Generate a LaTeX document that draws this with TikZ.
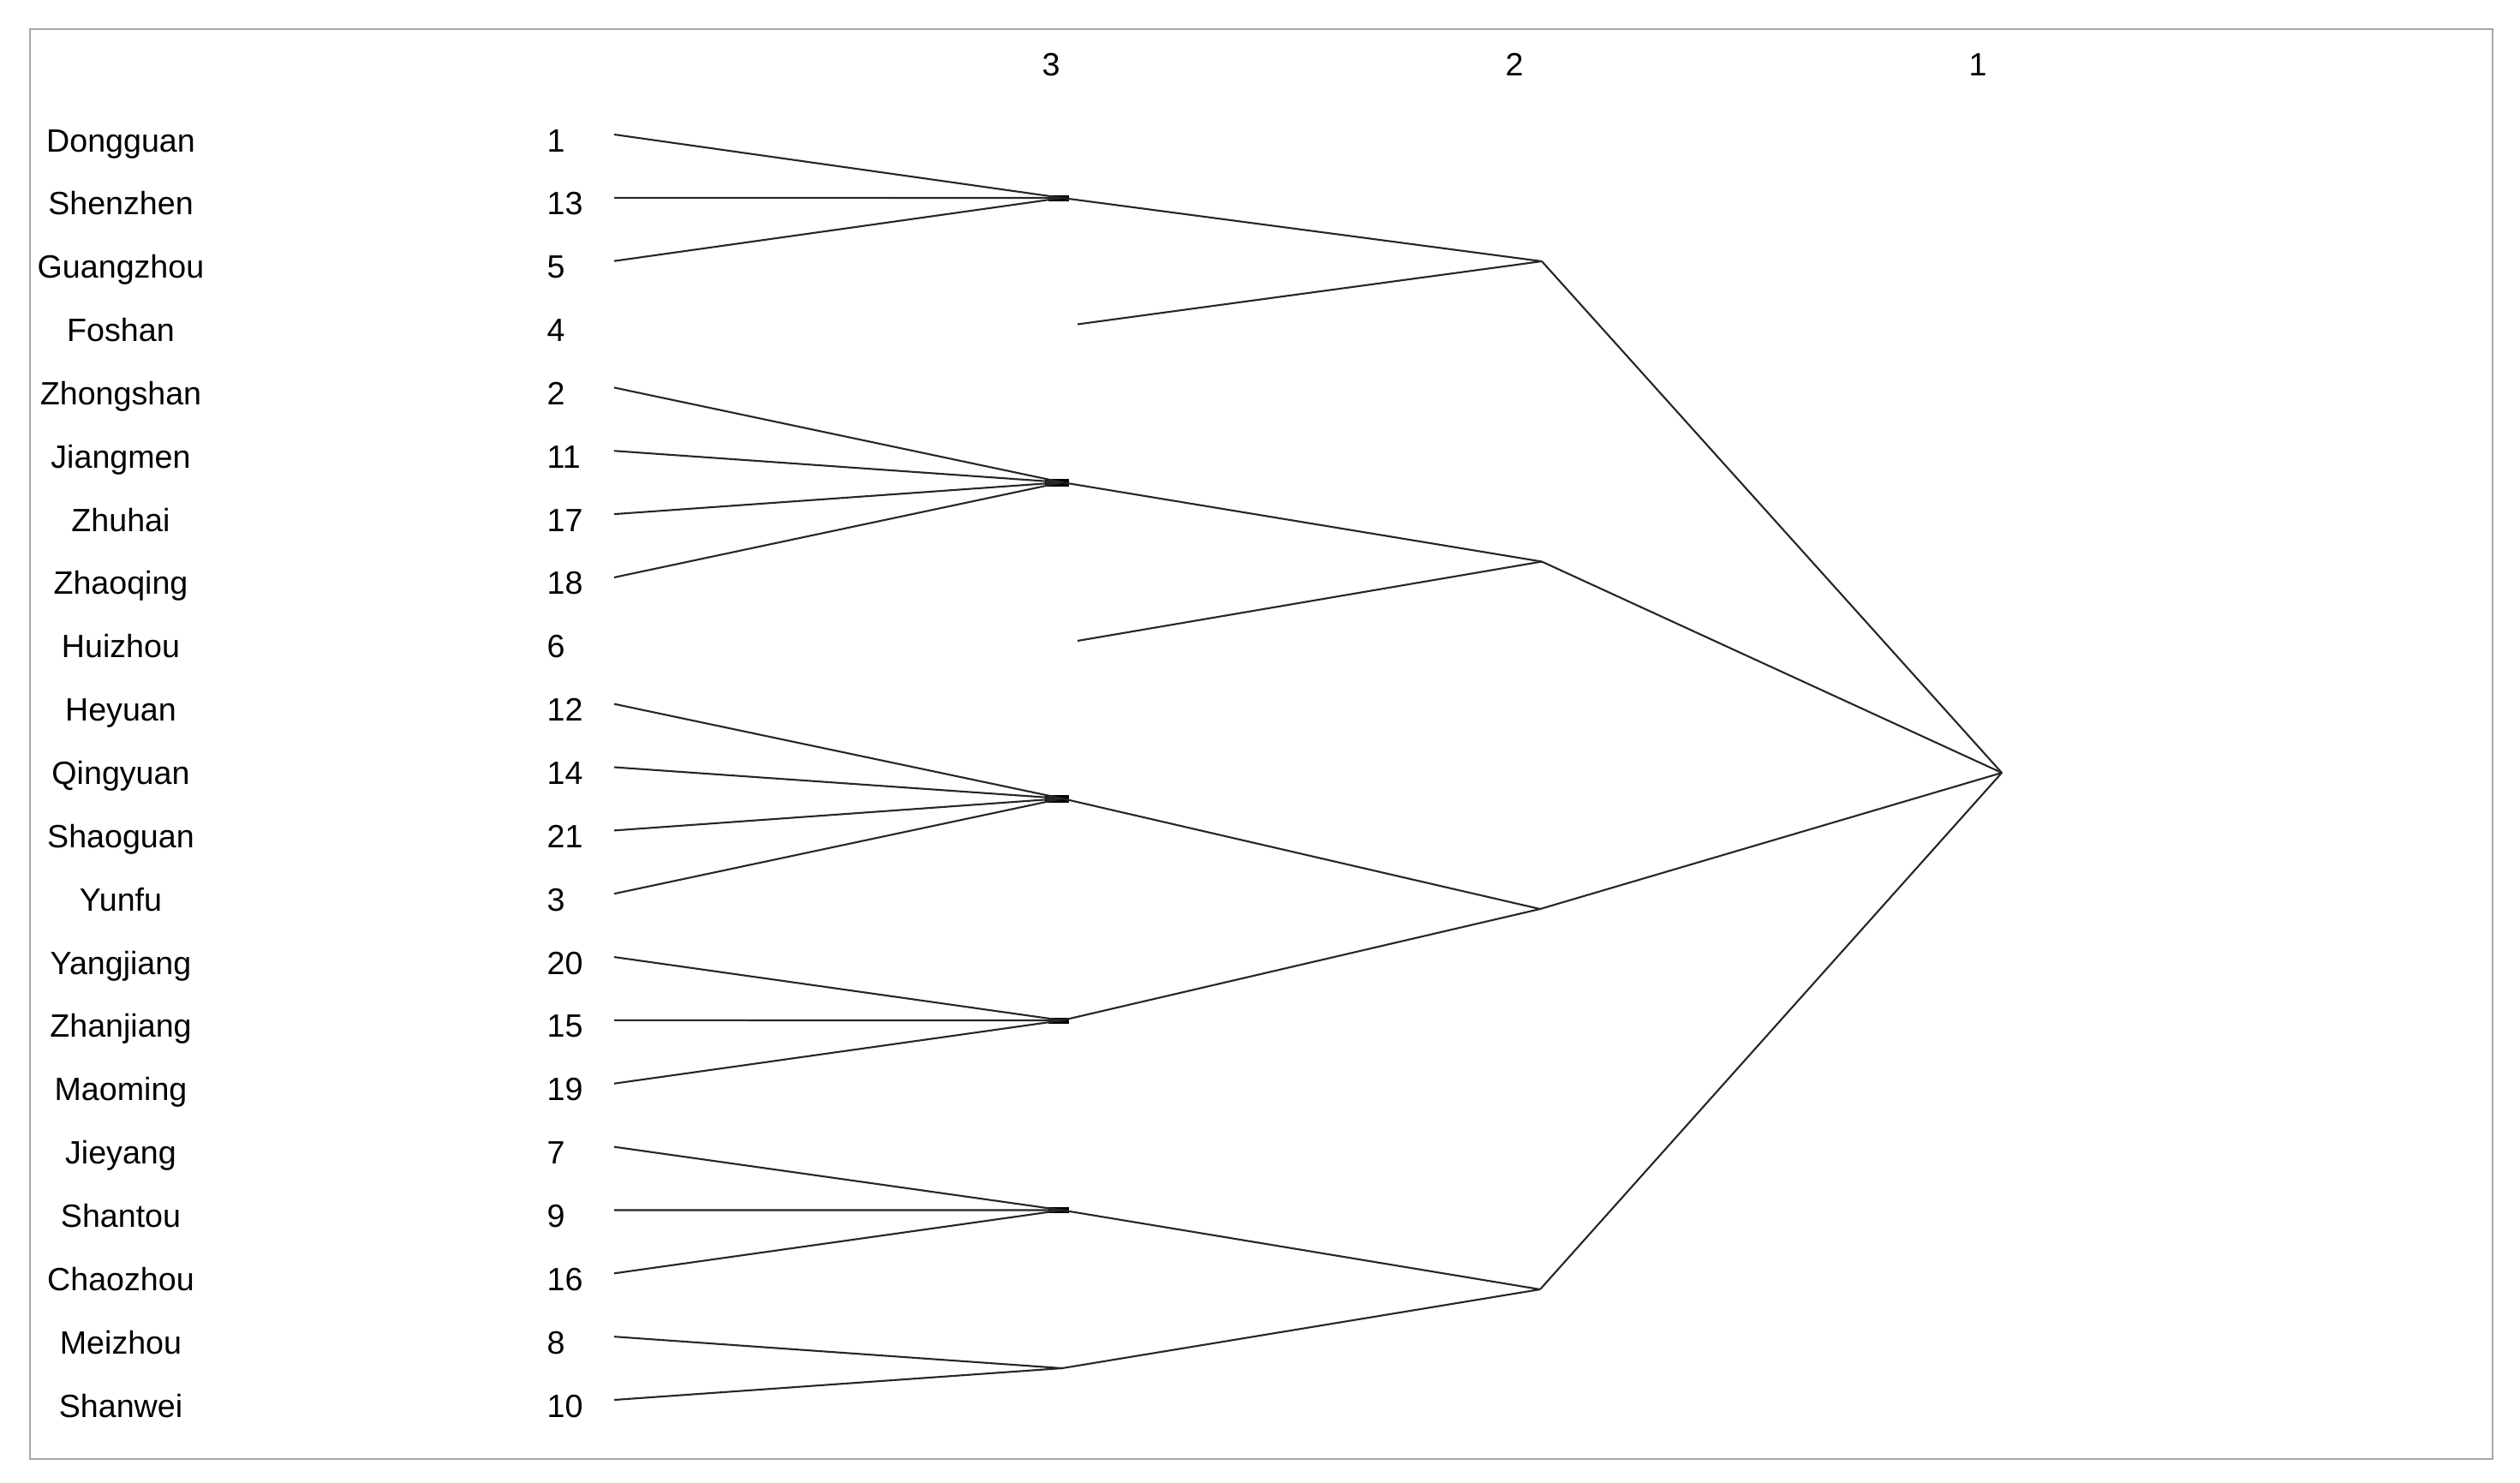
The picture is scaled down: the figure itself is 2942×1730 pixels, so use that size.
\documentclass[tikz,border=0pt]{standalone}
\usepackage{fontspec}
\setmainfont{Liberation Sans}
\begin{document}
\begin{tikzpicture}[x=0.01cm,y=-0.01cm,
  link/.style={draw=black!85,line width=0.6pt,line join=round},
  txt/.style={font=\fontsize{10.7}{12}\selectfont,inner sep=0pt},
  city/.style={txt,anchor=base},
  num/.style={txt,anchor=base west},
  lev/.style={txt,anchor=base},
  blob/.style={fill=black}]
\useasboundingbox (0,0) rectangle (2942,1730);
\fill[white] (0,0) rectangle (2942,1730);
\draw[gray!70,line width=0.8pt] (35,34) rectangle (2910,1703);
% level labels
\node[lev] (lv3) at (1227,88) {3};
\node[lev] (lv2) at (1768,88) {2};
\node[lev] (lv1) at (2309,88) {1};
% leaves
\foreach \nm/\id [count=\i from 0] in {Dongguan/1,Shenzhen/13,Guangzhou/5,Foshan/4,Zhongshan/2,Jiangmen/11,Zhuhai/17,Zhaoqing/18,Huizhou/6,Heyuan/12,Qingyuan/14,Shaoguan/21,Yunfu/3,Yangjiang/20,Zhanjiang/15,Maoming/19,Jieyang/7,Shantou/9,Chaozhou/16,Meizhou/8,Shanwei/10}{
  \node[city] (c\id) at (141,{177+73.85*\i}) {\nm};
  \node[num] (n\id) at (638,{177+73.85*\i}) {\id};
  \coordinate (s\id) at (717,{157+73.85*\i});
}
% singleton starts
\coordinate (f4) at (1258,378.5);
\coordinate (f6) at (1258,748);
% level-3 junctions
\coordinate (A) at (1240,231);
\coordinate (B) at (1240,563);
\coordinate (C) at (1240,932);
\coordinate (D) at (1240,1191);
\coordinate (E) at (1240,1412.5);
\coordinate (F) at (1240,1597);
% level-2 junctions
\coordinate (G1) at (1800,305);
\coordinate (G2) at (1800,655.5);
\coordinate (G3) at (1798,1061);
\coordinate (G4) at (1798,1505);
% root
\coordinate (R) at (2337,902);
% blobs at junctions
\foreach \j in {A,D,E}{\fill[blob] ([shift={(-16,-3.5)}]\j) rectangle ([shift={(8,3.5)}]\j);}
\foreach \j in {B,C}{\fill[blob] ([shift={(-20,-4.5)}]\j) rectangle ([shift={(8,4.5)}]\j);}
% leaf links
\foreach \id in {1,13,5}{\draw[link] (s\id) -- (A);}
\foreach \id in {2,11,17,18}{\draw[link] (s\id) -- (B);}
\foreach \id in {12,14,21,3}{\draw[link] (s\id) -- (C);}
\foreach \id in {20,15,19}{\draw[link] (s\id) -- (D);}
\foreach \id in {7,9,16}{\draw[link] (s\id) -- (E);}
\foreach \id in {8,10}{\draw[link] (s\id) -- (F);}
% level-2 links
\draw[link] (A) -- (G1);
\draw[link] (f4) -- (G1);
\draw[link] (B) -- (G2);
\draw[link] (f6) -- (G2);
\draw[link] (C) -- (G3);
\draw[link] (D) -- (G3);
\draw[link] (E) -- (G4);
\draw[link] (F) -- (G4);
% root links
\foreach \g in {G1,G2,G3,G4}{\draw[link] (\g) -- (R);}
\end{tikzpicture}
\end{document}
